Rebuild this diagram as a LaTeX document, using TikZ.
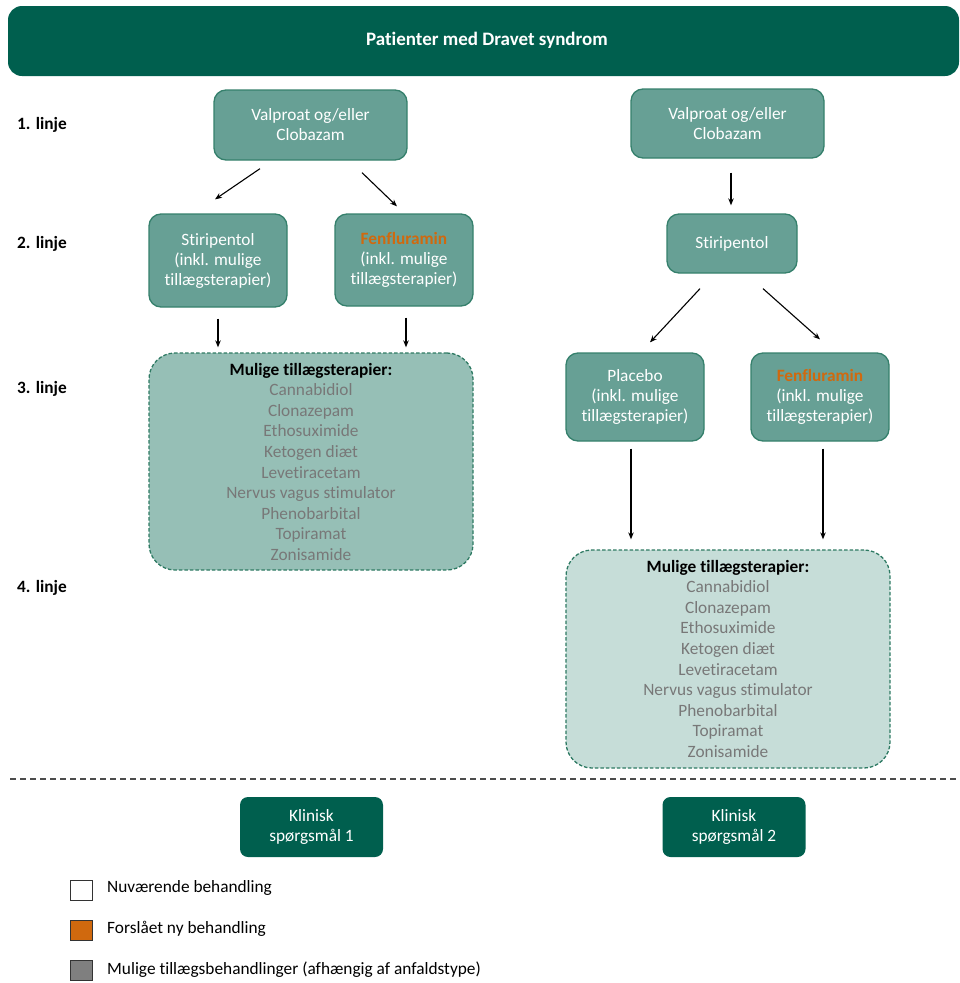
\documentclass[tikz,border=0pt]{standalone}
\usepackage{fontspec}
\setmainfont{Carlito}[Ligatures=NoCommon]
\usetikzlibrary{arrows.meta,calc}
\definecolor{hdr}{HTML}{005F4E}
\definecolor{boxc}{HTML}{67A095}
\definecolor{bordc}{HTML}{35806C}
\definecolor{dfillA}{HTML}{96BFB6}
\definecolor{dfillB}{HTML}{C6DDD8}
\definecolor{dbord}{HTML}{2E7A63}
\definecolor{itemgrey}{HTML}{787878}
\definecolor{orng}{HTML}{D0690E}
\definecolor{leggrey}{HTML}{7F7F7F}
\newcommand{\fsz}{\fontsize{17.3}{20}\selectfont}
\newcommand{\lsz}{\fontsize{17.3}{20.6}\selectfont}
\begin{document}
\begin{tikzpicture}[x=1pt,y=-1pt,
  tbox/.style={rectangle, rounded corners=12pt, draw=bordc, line width=1.3pt, fill=boxc,
    text=white, align=center, font=\fsz, inner sep=0pt},
  dbox/.style={rectangle, rounded corners=26pt, draw=dbord, dash pattern=on 3.5pt off 2pt,
    line width=1.3pt, inner sep=0pt},
  listtext/.style={align=center, font=\lsz, inner sep=0pt, text=itemgrey},
  kbox/.style={rectangle, rounded corners=8pt, fill=hdr, text=white, align=center,
    font=\fsz, inner sep=0pt, minimum width=143pt, minimum height=60pt},
  linje/.style={anchor=west, font=\fsz\bfseries, inner sep=0pt},
  arr/.style={-{Stealth[length=7pt,width=5.5pt]}, line width=1.1pt},
  legsq/.style={rectangle, draw=black!80, line width=1pt, minimum width=22pt, minimum height=20pt, inner sep=0pt},
  legtext/.style={anchor=west, font=\fsz, inner sep=0pt}
]
\useasboundingbox (0,0) rectangle (960,983);

% header
\node[rectangle, rounded corners=14pt, fill=hdr, minimum width=951pt, minimum height=70pt,
  inner sep=0pt] (hdr) at (483.5,41) {};
\node[text=white, font=\fontsize{19}{22}\selectfont\bfseries, inner sep=0pt] (hdrt) at (487,40) {Patienter med Dravet syndrom};

% line labels
\node[linje] (l1) at (17,125) {1. linje};
\node[linje] (l2) at (17,244) {2. linje};
\node[linje] (l3) at (17,389) {3. linje};
\node[linje] (l4) at (17,588) {4. linje};

% left column
\node[tbox, minimum width=193pt, minimum height=70pt] (lv) at (310.5,125) {Valproat og/eller\\Clobazam};
\node[tbox, minimum width=138pt, minimum height=93pt] (ls) at (218,260.5) {Stiripentol\\(inkl. mulige\\tillægsterapier)};
\node[tbox, minimum width=138pt, minimum height=92pt] (lf) at (404,260) {\textcolor{orng}{\bfseries Fenfluramin}\\(inkl. mulige\\tillægsterapier)};
\node[dbox, fill=dfillA, minimum width=324pt, minimum height=217pt] (b1) at (311,461.5) {};
\node[listtext, anchor=north] (t1) at ([yshift=-10.5pt]b1.north) {\textcolor{black}{\bfseries Mulige tillægsterapier:}\\Cannabidiol\\Clonazepam\\Ethosuximide\\Ketogen diæt\\Levetiracetam\\Nervus vagus stimulator\\Phenobarbital\\Topiramat\\Zonisamide};

\draw[arr] ([xshift=-50.5pt,yshift=-8pt]lv.south) -- ([xshift=-3pt,yshift=14pt]ls.north);
\draw[arr] ([xshift=51.5pt,yshift=-12pt]lv.south) -- ([xshift=-7pt,yshift=7pt]lf.north);
\draw[arr] ([yshift=-11pt]ls.south) -- ([yshift=5pt]ls.south |- b1.north);
\draw[arr] ([xshift=2pt,yshift=-11pt]lf.south) -- ([xshift=2pt,yshift=5pt]lf.south |- b1.north);

% right column
\node[tbox, minimum width=193pt, minimum height=69pt] (rv) at (727.5,123.5) {Valproat og/eller\\Clobazam};
\node[tbox, minimum width=130pt, minimum height=59pt] (rs) at (732,243.5) {Stiripentol};
\node[tbox, minimum width=138pt, minimum height=88pt] (rp) at (635,397) {Placebo\\(inkl. mulige\\tillægsterapier)};
\node[tbox, minimum width=138pt, minimum height=88pt] (rf) at (820,397) {\textcolor{orng}{\bfseries Fenfluramin}\\(inkl. mulige\\tillægsterapier)};
\node[dbox, fill=dfillB, minimum width=324pt, minimum height=218pt] (b2) at (728,659) {};
\node[listtext, anchor=north] (t2) at ([yshift=-10.5pt]b2.north) {\textcolor{black}{\bfseries Mulige tillægsterapier:}\\Cannabidiol\\Clonazepam\\Ethosuximide\\Ketogen diæt\\Levetiracetam\\Nervus vagus stimulator\\Phenobarbital\\Topiramat\\Zonisamide};

\draw[arr] ([xshift=3.5pt,yshift=-14pt]rv.south) -- ([xshift=-1pt,yshift=8pt]rs.north);
\draw[arr] ([xshift=-32pt,yshift=-15pt]rs.south) -- ([xshift=15pt,yshift=10pt]rp.north);
\draw[arr] ([xshift=31pt,yshift=-15pt]rs.south) -- ([xshift=0pt,yshift=13pt]rf.north);
\draw[arr] ([xshift=-4pt,yshift=-7pt]rp.south) -- ([xshift=-4pt,yshift=10pt]rp.south |- b2.north);
\draw[arr] ([xshift=3pt,yshift=-7pt]rf.south) -- ([xshift=3pt,yshift=10pt]rf.south |- b2.north);

% separator
\coordinate (sepL) at (10,779);
\coordinate (sepR) at (960,779);
\draw[black!70, line width=1.3pt, dash pattern=on 6pt off 4pt] (sepL) -- (sepR);

% clinical question boxes
\node[kbox] (k1) at (311.5,827) {Klinisk\\spørgsmål 1};
\node[kbox] (k2) at (734,827) {Klinisk\\spørgsmål 2};

% legend
\node[legsq, fill=white] (q1) at (81.5,890) {};
\node[legsq, fill=orng] (q2) at (81.5,930) {};
\node[legsq, fill=leggrey] (q3) at (81.5,970.5) {};
\node[legtext] (g1) at (107,888) {Nuværende behandling};
\node[legtext] (g2) at (107,929) {Forslået ny behandling};
\node[legtext] (g3) at (107,970) {Mulige tillægsbehandlinger (afhængig af anfaldstype)};
\end{tikzpicture}
\end{document}
